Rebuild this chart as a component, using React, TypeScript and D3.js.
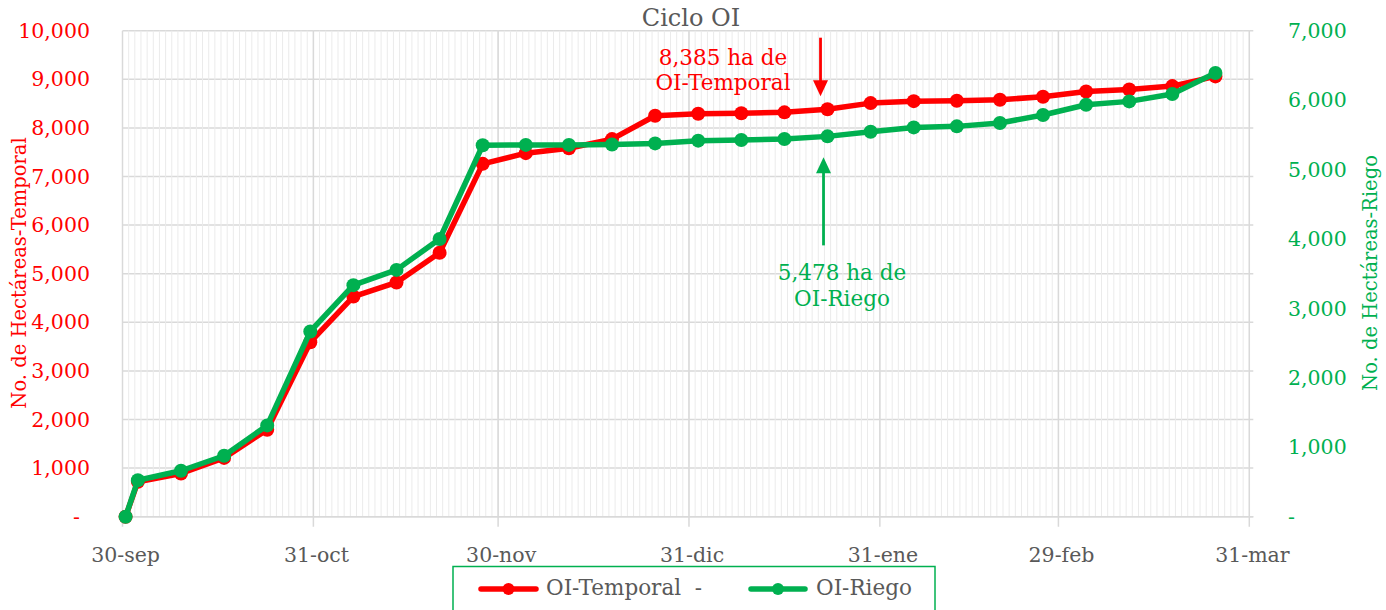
import * as d3 from 'd3';

// fechas de corte (semanal) y hectáreas acumuladas
const dates = [
  "2023-09-30", "2023-10-02", "2023-10-09", "2023-10-16", "2023-10-23", "2023-10-30",
  "2023-11-06", "2023-11-13", "2023-11-20", "2023-11-27", "2023-12-04", "2023-12-11",
  "2023-12-18", "2023-12-25", "2024-01-01", "2024-01-08", "2024-01-15", "2024-01-22",
  "2024-01-29", "2024-02-05", "2024-02-12", "2024-02-19", "2024-02-26", "2024-03-04",
  "2024-03-11", "2024-03-18", "2024-03-25",
];
const temporal = [0, 720, 890, 1210, 1790, 3590, 4530, 4820, 5430, 7260, 7480, 7580, 7770, 8250,
  8290, 8300, 8320, 8385, 8510, 8550, 8560, 8580, 8640, 8750, 8790, 8860, 9060];
const riego = [0, 525, 662, 878, 1315, 2668, 3335, 3555, 4000, 5350, 5355, 5355, 5360, 5377,
  5416, 5426, 5440, 5478, 5545, 5607, 5622, 5670, 5786, 5934, 5982, 6088, 6390];

const leftTicks = [0, 1000, 2000, 3000, 4000, 5000, 6000, 7000, 8000, 9000, 10000];
const rightTicks = [0, 1000, 2000, 3000, 4000, 5000, 6000, 7000];
const monthTicks = ["2023-09-30", "2023-10-31", "2023-11-30", "2023-12-31", "2024-01-31", "2024-02-29", "2024-03-31"];
const monthLabels = ["30-sep", "31-oct", "30-nov", "31-dic", "31-ene", "29-feb", "31-mar"];

const highlightIndex = 17; // 22-ene

const RED = "#ff0000";
const GREEN = "#00b050";
const GRAY = "#595959";
const FONT = "'DejaVu Serif', serif";

const W = 1386, H = 610;
const left = 122.5, right = 1249.3, top = 30.7, bottom = 516.7;

const App = () => {
  const parse = d3.utcParse("%Y-%m-%d");
  const dts = dates.map(d => parse(d)!);
  const ticks = monthTicks.map(d => parse(d)!);

  const x = d3.scaleUtc().domain([ticks[0], ticks[ticks.length - 1]]).range([left, right]);
  const yL = d3.scaleLinear().domain([0, 10000]).range([bottom, top]);
  const yR = d3.scaleLinear().domain([0, 7000]).range([bottom, top]);

  // Excel coloca los puntos a mitad del día
  const xp = (d: Date) => x(d3.utcHour.offset(d, 12));

  const days = d3.utcDay.range(ticks[0], d3.utcDay.offset(ticks[ticks.length - 1], 1));

  const tData = dts.map((d, i) => ({ d, v: temporal[i] }));
  const rData = dts.map((d, i) => ({ d, v: riego[i] }));

  const lineT = d3.line<{ d: Date, v: number }>().x(p => xp(p.d)).y(p => yL(p.v));
  const lineR = d3.line<{ d: Date, v: number }>().x(p => xp(p.d)).y(p => yR(p.v));

  const fmt = d3.format(",");

  const hx = xp(dts[highlightIndex]);
  const hyT = yL(temporal[highlightIndex]);
  const hyR = yR(riego[highlightIndex]);

  return (
    <svg width={W} height={H} style={{ position: "absolute", left: 0, top: 0, display: "block", background: "#fff" }}
      fontFamily={FONT}>
      {/* horizontal gridlines */}
      {leftTicks.map(t => (
        <line key={"h" + t} x1={left} x2={right + 4} y1={yL(t)} y2={yL(t)} stroke="#d9d9d9" strokeWidth={1.5} />
      ))}
      {/* minor daily gridlines */}
      {days.map((d, i) => (
        <line key={"m" + i} x1={x(d)} x2={x(d)} y1={top} y2={bottom} stroke="#ebebeb" strokeWidth={1} />
      ))}
      {/* major month gridlines + ticks */}
      {ticks.map((d, i) => (
        <line key={"M" + i} x1={x(d)} x2={x(d)} y1={top} y2={bottom + 10} stroke="#d9d9d9" strokeWidth={1.5} />
      ))}
      <line x1={left} x2={right + 4} y1={bottom} y2={bottom} stroke="#d9d9d9" strokeWidth={1.5} />

      {/* x labels */}
      {ticks.map((d, i) => (
        <text key={"xl" + i} x={xp(d)} y={562} textAnchor="middle" fontSize={20.5} fill={GRAY}>{monthLabels[i]}</text>
      ))}

      {/* left axis */}
      {leftTicks.map(t => (
        <text key={"yl" + t} x={t === 0 ? 80 : 90} y={yL(t)} dy="0.35em" textAnchor="end" fontSize={20.5} fill={RED}>
          {t === 0 ? "-" : fmt(t)}
        </text>
      ))}
      {/* right axis */}
      {rightTicks.map(t => (
        <text key={"yr" + t} x={1288} y={yR(t)} dy="0.35em" textAnchor="start" fontSize={20.5} fill={GREEN}>
          {t === 0 ? "-" : fmt(t)}
        </text>
      ))}

      <text transform={`translate(26,273) rotate(-90)`} textAnchor="middle" fontSize={19.5} fill={RED}>
        No. de Hectáreas-Temporal
      </text>
      <text transform={`translate(1377,273) rotate(-90)`} textAnchor="middle" fontSize={19.5} fill={GREEN}>
        No. de Hectáreas-Riego
      </text>

      {/* title */}
      <text x={691} y={26} textAnchor="middle" fontSize={24} fill={GRAY}>Ciclo OI</text>

      {/* series */}
      <path d={lineT(tData) ?? ""} fill="none" stroke={RED} strokeWidth={5.5} strokeLinejoin="round" />
      {tData.map((p, i) => (
        <circle key={"t" + i} cx={xp(p.d)} cy={yL(p.v)} r={7} fill={RED} />
      ))}
      <path d={lineR(rData) ?? ""} fill="none" stroke={GREEN} strokeWidth={5.5} strokeLinejoin="round" />
      {rData.map((p, i) => (
        <circle key={"r" + i} cx={xp(p.d)} cy={yR(p.v)} r={7} fill={GREEN} />
      ))}

      {/* annotations */}
      <line x1={hx - 7} x2={hx - 7} y1={37.7} y2={hyT - 25} stroke={RED} strokeWidth={2.8} />
      <path d={`M${hx - 14.5},${hyT - 29} L${hx + 0.5},${hyT - 29} L${hx - 7},${hyT - 13} Z`} fill={RED} />
      <text x={723} y={65} textAnchor="middle" fontSize={21.5} fill={RED}>{fmt(temporal[highlightIndex])} ha de</text>
      <text x={723} y={90} textAnchor="middle" fontSize={21.5} fill={RED}>OI-Temporal</text>

      <line x1={hx - 4} x2={hx - 4} y1={hyR + 109} y2={hyR + 33} stroke={GREEN} strokeWidth={2.8} />
      <path d={`M${hx - 11.5},${hyR + 37} L${hx + 3.5},${hyR + 37} L${hx - 4},${hyR + 21} Z`} fill={GREEN} />
      <text x={842} y={280} textAnchor="middle" fontSize={21.5} fill={GREEN}>{fmt(riego[highlightIndex])} ha de</text>
      <text x={842} y={306} textAnchor="middle" fontSize={21.5} fill={GREEN}>OI-Riego</text>

      {/* legend */}
      <rect x={453} y={566.5} width={482} height={60} fill="none" stroke={GREEN} strokeWidth={1.5} />
      <line x1={481} x2={536} y1={589} y2={589} stroke={RED} strokeWidth={5.5} strokeLinecap="round" />
      <circle cx={508.5} cy={589} r={6} fill={RED} />
      <text x={546} y={595} fontSize={21.5} fill={GRAY} style={{ whiteSpace: "pre" }}>OI-Temporal  -</text>
      <line x1={751} x2={805} y1={589} y2={589} stroke={GREEN} strokeWidth={5.5} strokeLinecap="round" />
      <circle cx={778} cy={589} r={6} fill={GREEN} />
      <text x={816} y={595} fontSize={21.5} fill={GRAY}>OI-Riego</text>
    </svg>
  );
};

export default App;
